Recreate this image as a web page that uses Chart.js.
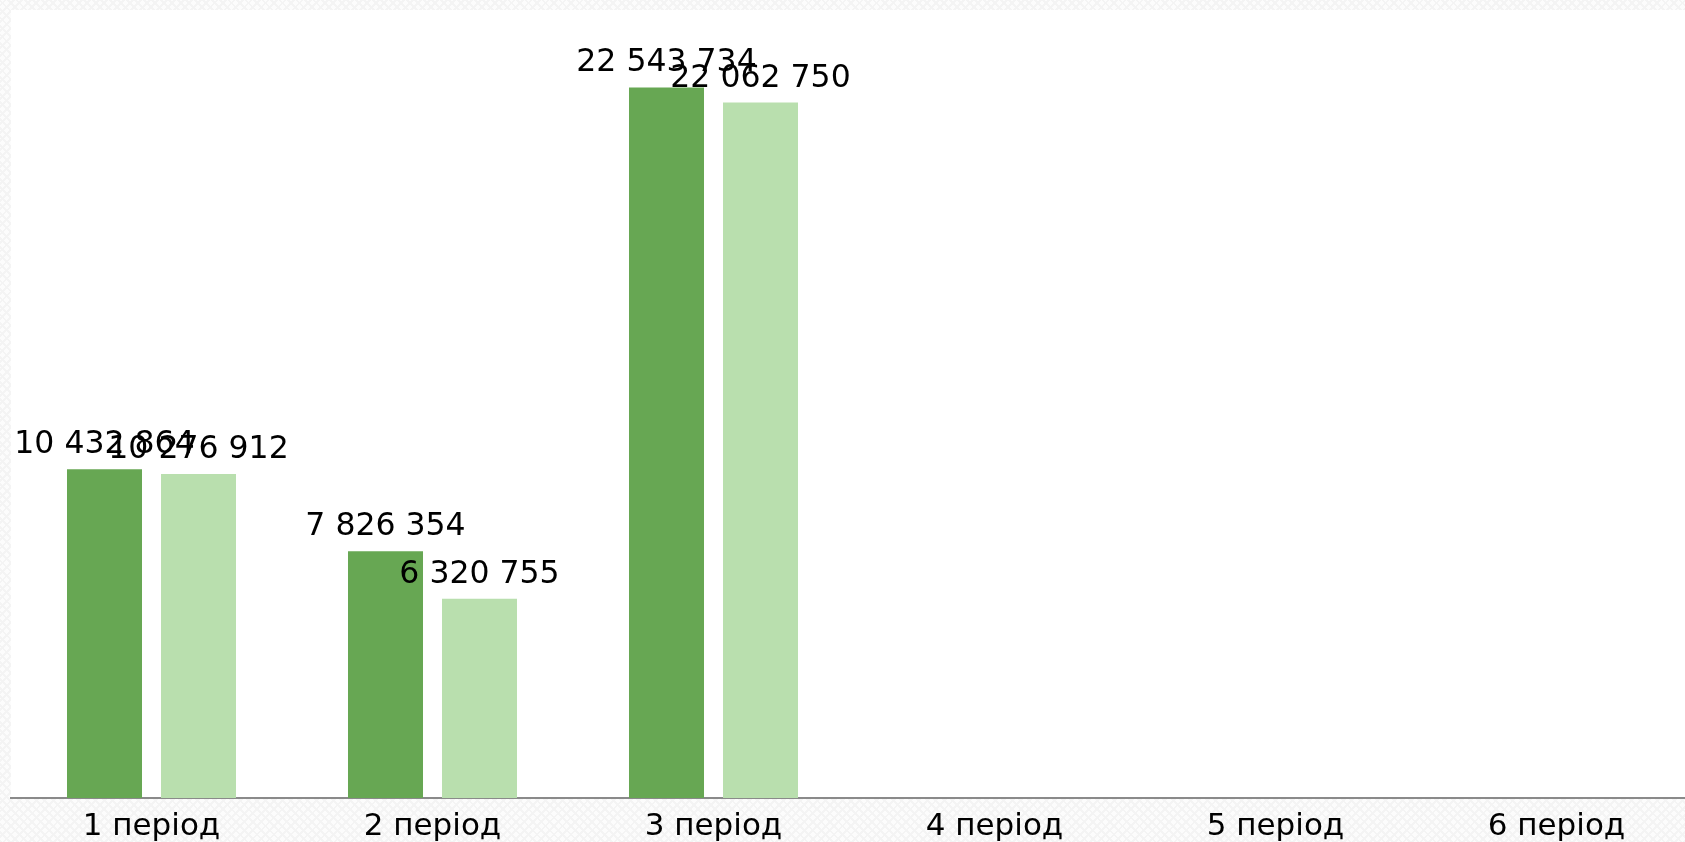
<!DOCTYPE html>
<html>
<head>
<meta charset="utf-8">
<script src="https://cdn.jsdelivr.net/npm/chart.js@4"></script>
<style>
  html, body { margin: 0; padding: 0; overflow: hidden; }
  body {
    width: 1685px; height: 842px;
    background-color: #fcfcfc;
    background-image:
      repeating-linear-gradient(45deg, #f4f4f4 0 2px, transparent 2px 6px),
      repeating-linear-gradient(-45deg, #f4f4f4 0 2px, transparent 2px 6px);
  }
  #wrap { width: 1697px; height: 842px; }
</style>
</head>
<body>
<div id="wrap"><canvas id="chart" width="1697" height="842"></canvas></div>
<script>
const categories = ["1 період", "2 період", "3 період", "4 період", "5 період", "6 період"];
const seriesA = [10432864, 7826354, 22543734, null, null, null];
const seriesB = [10276912, 6320755, 22062750, null, null, null];
const yMax = 25000000;

const colorA = "#67a753";
const colorB = "#b9dfae";
const fontFamily = "'DejaVu Sans', sans-serif";

// number with spaces as thousands separator
function fmt(v) {
  return String(v).replace(/\B(?=(\d{3})+(?!\d))/g, " ");
}

// white plot area over the patterned page
const plotBg = {
  id: "plotBg",
  beforeDraw(chart) {
    const { ctx, chartArea } = chart;
    ctx.save();
    ctx.fillStyle = "#ffffff";
    ctx.fillRect(chartArea.left, chartArea.top, chart.width - chartArea.left, chartArea.bottom - chartArea.top);
    ctx.restore();
  },
};

// value labels above each bar
const barLabels = {
  id: "barLabels",
  afterDatasetsDraw(chart) {
    const { ctx } = chart;
    ctx.save();
    ctx.font = "31.5px " + fontFamily;
    ctx.fillStyle = "#000000";
    ctx.textAlign = "center";
    ctx.textBaseline = "alphabetic";
    chart.data.datasets.forEach((ds, i) => {
      chart.getDatasetMeta(i).data.forEach((bar, j) => {
        const v = ds.data[j];
        if (v == null) return;
        ctx.fillText(fmt(v), bar.x, bar.y - 16);
      });
    });
    ctx.restore();
  },
};

const ctx = document.getElementById("chart").getContext("2d");
new Chart(ctx, {
  type: "bar",
  data: {
    labels: categories,
    datasets: [
      { label: "A", data: seriesA, backgroundColor: colorA, categoryPercentage: 0.669, barPercentage: 0.798 },
      { label: "B", data: seriesB, backgroundColor: colorB, categoryPercentage: 0.669, barPercentage: 0.798 },
    ],
  },
  options: {
    responsive: false,
    animation: false,
    layout: { padding: { left: 11, top: 10, right: 0, bottom: 0 } },
    plugins: { legend: { display: false }, tooltip: { enabled: false } },
    scales: {
      x: {
        grid: { display: false, drawTicks: false },
        border: { display: true, color: "#8a8a8a", width: 2 },
        ticks: { color: "#000000", font: { family: fontFamily, size: 31 }, padding: 10, maxRotation: 0 },
        afterFit(scale) { scale.height = 44; },
      },
      y: { display: false, min: 0, max: yMax },
    },
  },
  plugins: [plotBg, barLabels],
});
</script>
</body>
</html>
